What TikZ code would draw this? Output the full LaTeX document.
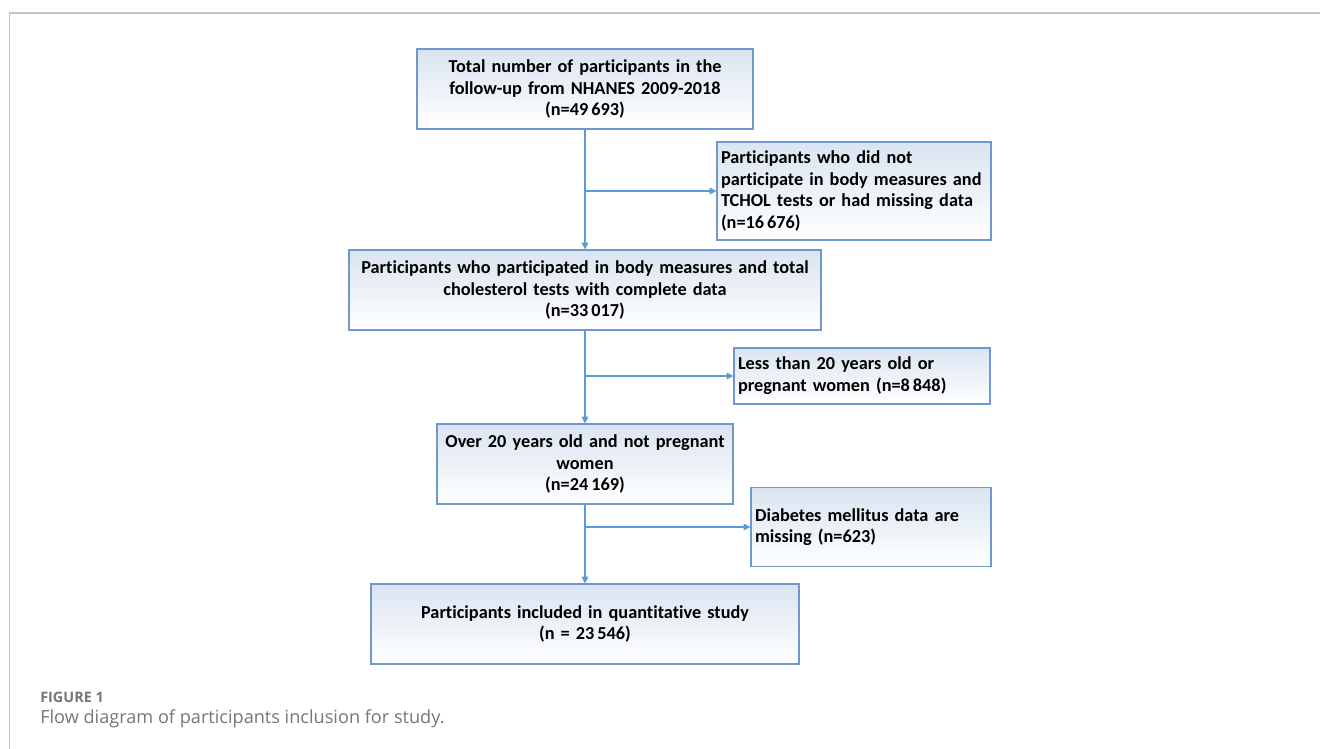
\documentclass[tikz,border=0pt]{standalone}
\usepackage{fontspec}
\setmainfont{Carlito}[Ligatures=NoCommon]
\newfontfamily\capfont{Open Sans}
\usetikzlibrary{arrows.meta}
\definecolor{lineblue}{RGB}{91,155,213}
\definecolor{boxborder}{RGB}{112,152,204}
\definecolor{boxtop}{RGB}{218,228,241}
\definecolor{framegray}{RGB}{196,196,196}
\definecolor{capgray}{RGB}{118,118,118}
\begin{document}
\begin{tikzpicture}[x=0.75pt,y=-0.75pt,
  basebox/.style={draw=boxborder, line width=0.9pt, top color=boxtop, bottom color=white,
    font=\bfseries\fontsize{13.7}{16.3}\selectfont, text=black, inner ysep=0pt},
  cbox/.style={basebox, inner xsep=2.25pt, align=center},
  lbox/.style={basebox, inner xsep=3pt, align=left},
  flowarrow/.style={draw=lineblue, line width=0.9pt, -{Triangle[length=5pt,width=5pt]}}
]
\useasboundingbox (0,0) rectangle (1320,749);
% frame
\draw[framegray, line width=0.8pt] (9.5,749) -- (9.5,13) -- (1320,13);

% main boxes
\node[cbox, text width=247.5pt, minimum height=60pt] (b1) at (585,89)
  {Total number of participants in the\\ follow-up from NHANES 2009-2018\\ (n=49\,693)};
\node[cbox, text width=349.5pt, minimum height=60pt] (b2) at (585,290)
  {Participants who participated in body measures and total\\ cholesterol tests with complete data\\ (n=33\,017)};
\node[cbox, text width=217.5pt, minimum height=60pt] (b3) at (585,464)
  {Over 20 years old and not pregnant\\ women\\ (n=24\,169)};
\node[cbox, text width=316.5pt, minimum height=60pt] (b4) at (585,624)
  {Participants included in quantitative study\\ (n = 23\,546)};

% exclusion boxes
\node[lbox, text width=199.5pt, minimum height=73.5pt] (e1) at (854,191)
  {Participants who did not\\ participate in body measures and\\ TCHOL tests or had missing data\\ (n=16\,676)};
\node[lbox, text width=186pt, minimum height=42pt] (e2) at (862,376)
  {Less than 20 years old or\\ pregnant women (n=8\,848)};
\node[lbox, text width=174pt, minimum height=59.25pt] (e3) at (871,527)
  {Diabetes mellitus data are\\ missing (n=623)};

% connectors
\draw[flowarrow] (b1.south) -- (b2.north);
\draw[flowarrow] (b2.south) -- (b3.north);
\draw[flowarrow] (b3.south) -- (b4.north);
\draw[flowarrow] (b1.south |- e1.west) -- (e1.west);
\draw[flowarrow] (b2.south |- e2.west) -- (e2.west);
\draw[flowarrow] (b3.south |- e3.west) -- (e3.west);

% caption
\node[anchor=west, inner sep=0pt, text=capgray, font=\capfont\bfseries\fontsize{10.8}{12}\selectfont] (figlabel) at (40,697) {FIGURE 1};
\node[anchor=west, inner sep=0pt, text=capgray, font=\capfont\fontsize{13.6}{15}\selectfont] (figcap) at (40,719) {Flow diagram of participants inclusion for study.};
\end{tikzpicture}
\end{document}
